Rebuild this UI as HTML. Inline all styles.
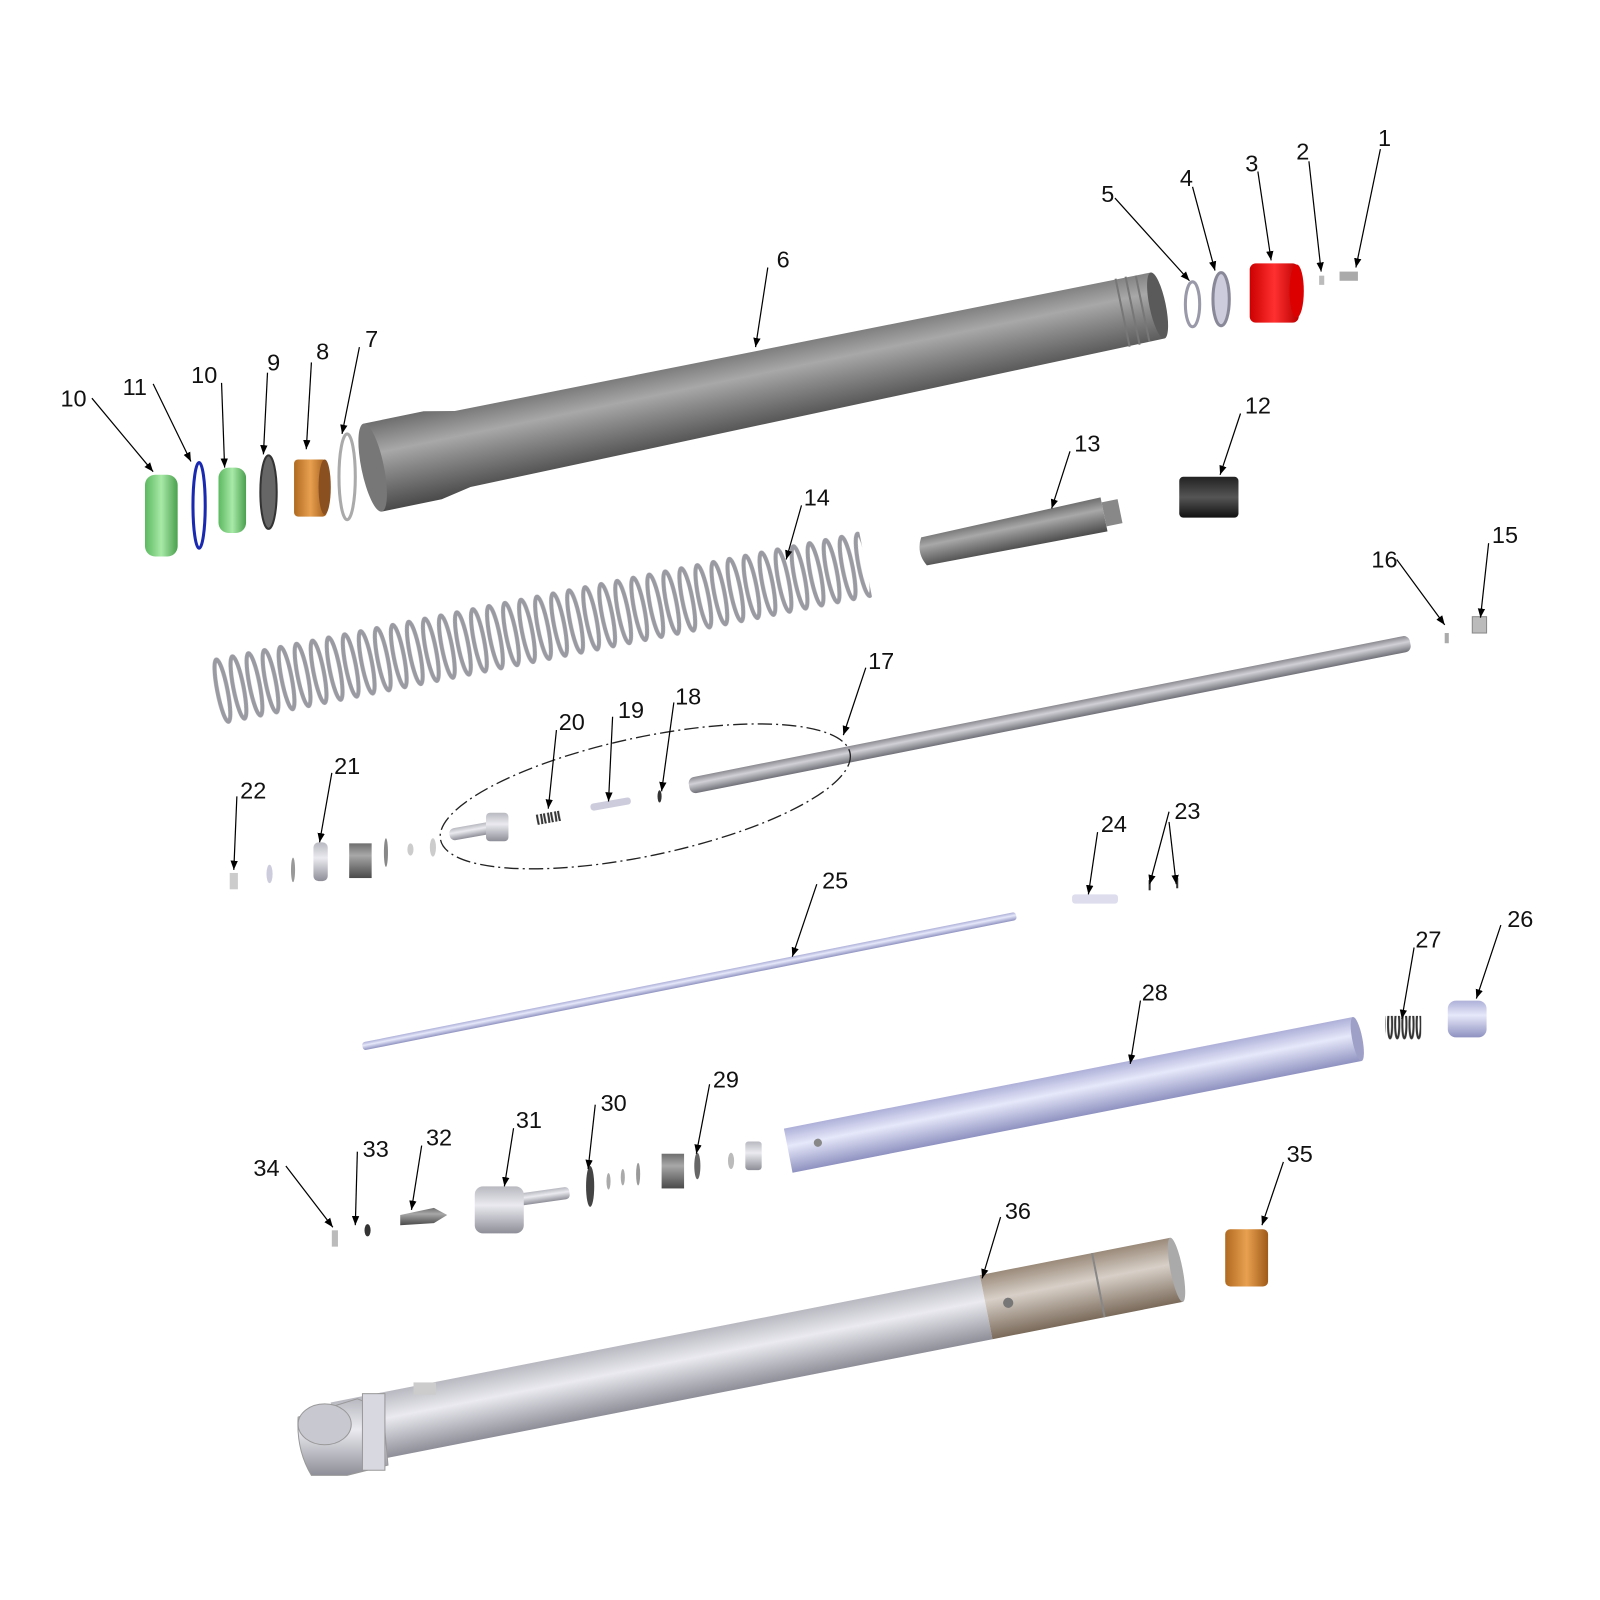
<!DOCTYPE html>
<html><head><meta charset="utf-8"><style>
html,body{margin:0;padding:0;background:#fff}
svg{display:block}
text{font-family:"Liberation Sans",sans-serif;font-size:23px;fill:#111}
</style></head><body>
<svg width="1600" height="1600" viewBox="0 0 1600 1600" xmlns="http://www.w3.org/2000/svg">
<defs>
<marker id="ar" viewBox="0 0 10 10" refX="10" refY="5" markerWidth="9" markerHeight="14" orient="auto-start-reverse" markerUnits="userSpaceOnUse"><path d="M0,1 L10,5 L0,9 z" fill="#000"/></marker>
<linearGradient id="gDark" x1="0" y1="0" x2="0" y2="1"><stop offset="0" stop-color="#6e6e6e"/><stop offset=".35" stop-color="#a8a8a8"/><stop offset=".55" stop-color="#8a8a8a"/><stop offset="1" stop-color="#4a4a4a"/></linearGradient>
<linearGradient id="gLight" x1="0" y1="0" x2="0" y2="1"><stop offset="0" stop-color="#b8b8c0"/><stop offset=".4" stop-color="#eaeaf0"/><stop offset="1" stop-color="#8e8e98"/></linearGradient>
<linearGradient id="gBlue" x1="0" y1="0" x2="0" y2="1"><stop offset="0" stop-color="#aeb0d8"/><stop offset=".4" stop-color="#e6e8fa"/><stop offset="1" stop-color="#8f92c0"/></linearGradient>
<linearGradient id="gBronze" x1="0" y1="0" x2="0" y2="1"><stop offset="0" stop-color="#9a8a7a"/><stop offset=".4" stop-color="#d8d0c8"/><stop offset="1" stop-color="#7a6a5a"/></linearGradient>
<linearGradient id="gRod" x1="0" y1="0" x2="0" y2="1"><stop offset="0" stop-color="#8a8a90"/><stop offset=".4" stop-color="#d0d0d6"/><stop offset="1" stop-color="#707078"/></linearGradient>
<linearGradient id="gOr" x1="0" y1="0" x2="1" y2="0"><stop offset="0" stop-color="#b06a20"/><stop offset=".5" stop-color="#e8a050"/><stop offset="1" stop-color="#a05a18"/></linearGradient>
<linearGradient id="gRed" x1="0" y1="0" x2="1" y2="0"><stop offset="0" stop-color="#c00"/><stop offset=".5" stop-color="#ff3030"/><stop offset="1" stop-color="#b00"/></linearGradient>
<linearGradient id="gGreen" x1="0" y1="0" x2="1" y2="0"><stop offset="0" stop-color="#5cb860"/><stop offset=".5" stop-color="#a8eaa8"/><stop offset="1" stop-color="#4aa04e"/></linearGradient>
<linearGradient id="gBlk" x1="0" y1="0" x2="0" y2="1"><stop offset="0" stop-color="#222"/><stop offset=".5" stop-color="#555"/><stop offset="1" stop-color="#111"/></linearGradient>
<pattern id="coil" x="0" y="-35" width="16" height="70" patternUnits="userSpaceOnUse"><ellipse cx="8" cy="35" rx="5" ry="31" fill="none" stroke="#9a9aa2" stroke-width="4"/></pattern>
<pattern id="coil2" width="7" height="34" patternUnits="userSpaceOnUse"><ellipse cx="3.5" cy="17" rx="2" ry="14" fill="none" stroke="#333" stroke-width="2"/></pattern>
</defs>
<g transform="scale(1.021)">
<g transform="translate(365,458) rotate(-11.67)">
<path d="M0,-44 L60,-44 L90,-38 L785,-33 L785,33 L90,38 L60,44 L0,44z" fill="url(#gDark)"/>
<ellipse cx="0" cy="0" rx="11" ry="44" fill="#777"/>
<ellipse cx="785" cy="0" rx="8" ry="33" fill="#5a5a5a"/>
<line x1="750" y1="-34" x2="750" y2="34" stroke="#777" stroke-width="2"/>
<line x1="760" y1="-34" x2="760" y2="34" stroke="#777" stroke-width="2"/>
<line x1="770" y1="-33" x2="770" y2="33" stroke="#777" stroke-width="2"/>
</g>
<ellipse cx="1168" cy="298" rx="7" ry="22" fill="none" stroke="#99a" stroke-width="3"/>
<ellipse cx="1196" cy="293" rx="8" ry="26" fill="#ccd" stroke="#889" stroke-width="3"/>
<rect x="1224" y="258" width="48" height="58" rx="6" fill="url(#gRed)"/>
<ellipse cx="1270" cy="285" rx="7" ry="26" fill="#d00"/>
<rect x="1292" y="270" width="5" height="9" fill="#bbb"/>
<rect x="1312" y="266" width="18" height="9" fill="#aaa"/>
<ellipse cx="340" cy="467" rx="8" ry="42" fill="none" stroke="#aaa" stroke-width="3"/>
<rect x="288" y="450" width="32" height="56" rx="4" fill="url(#gOr)"/>
<ellipse cx="318" cy="477" rx="6" ry="27" fill="#8a5020"/>
<ellipse cx="263" cy="482" rx="8" ry="36" fill="#666" stroke="#333" stroke-width="2"/>
<rect x="214" y="458" width="27" height="64" rx="10" fill="url(#gGreen)"/>
<ellipse cx="195" cy="495" rx="6" ry="42" fill="none" stroke="#1a2ab0" stroke-width="3"/>
<rect x="142" y="465" width="32" height="80" rx="10" fill="url(#gGreen)"/>
<rect x="1155" y="467" width="58" height="40" rx="4" fill="url(#gBlk)"/>
<g transform="translate(905,540) rotate(-11.6)">
<path d="M0,-14 L180,-17 L180,17 L0,14 Q-8,0 0,-14z" fill="url(#gDark)"/>
<rect x="180" y="-12" width="16" height="24" fill="#888"/>
</g>
<g transform="translate(210,678) rotate(-11.1)">
<rect x="0" y="-35" width="650" height="70" fill="url(#coil)"/>
</g>
<g transform="translate(675,770) rotate(-11.23)">
<rect x="0" y="-8" width="720" height="16" rx="6" fill="url(#gRod)"/>
</g>
<rect x="1442" y="604" width="14" height="16" fill="#bbb" stroke="#888"/>
<rect x="1415" y="620" width="4" height="10" fill="#aaa"/>
<ellipse cx="632" cy="780" rx="205" ry="58" transform="rotate(-12 632 780)" fill="none" stroke="#222" stroke-width="1.3" stroke-dasharray="14 4 2 4"/>
<rect x="525" y="796" width="24" height="10" fill="url(#coil2)" transform="rotate(-10 537 801)"/>
<rect x="578" y="784" width="40" height="7" rx="3" fill="#ccd" transform="rotate(-10 598 787)"/>
<ellipse cx="646" cy="780" rx="2" ry="6" fill="#333"/>
<rect x="440" y="808" width="45" height="12" rx="5" fill="url(#gLight)" transform="rotate(-10 462 814)"/>
<rect x="476" y="796" width="22" height="28" rx="4" fill="url(#gLight)"/>
<rect x="225" y="855" width="8" height="16" fill="#ccc"/>
<ellipse cx="264" cy="856" rx="3" ry="9" fill="#ccd"/>
<ellipse cx="287" cy="852" rx="2" ry="12" fill="#999"/>
<rect x="307" y="825" width="14" height="38" rx="5" fill="url(#gLight)"/>
<rect x="342" y="826" width="22" height="34" fill="url(#gDark)"/>
<ellipse cx="378" cy="835" rx="2" ry="14" fill="#888"/>
<ellipse cx="402" cy="832" rx="3" ry="6" fill="#ccc"/>
<ellipse cx="424" cy="830" rx="3" ry="9" fill="#ccc"/>
<rect x="1050" y="876" width="45" height="9" rx="3" fill="#dde"/>
<line x1="1126" y1="862" x2="1126" y2="872" stroke="#333" stroke-width="2"/>
<line x1="1153" y1="860" x2="1153" y2="870" stroke="#333" stroke-width="2"/>
<g transform="translate(355,1025) rotate(-11.3)">
<rect x="0" y="-4" width="653" height="8" rx="3" fill="url(#gBlue)"/>
</g>
<g transform="translate(772,1127) rotate(-11.1)">
<rect x="0" y="-22" width="568" height="44" fill="url(#gBlue)"/>
<ellipse cx="568" cy="0" rx="5" ry="22" fill="#9ea0c8"/>
<circle cx="30" cy="-2" r="4" fill="#888"/>
</g>
<rect x="1357" y="995" width="35" height="26" fill="url(#coil2)"/>
<rect x="1418" y="980" width="38" height="36" rx="8" fill="url(#gBlue)"/>
<rect x="730" y="1118" width="16" height="28" rx="3" fill="url(#gLight)"/>
<ellipse cx="716" cy="1137" rx="3" ry="8" fill="#bbb"/>
<ellipse cx="683" cy="1142" rx="3" ry="13" fill="#666"/>
<rect x="648" y="1130" width="22" height="34" fill="url(#gDark)"/>
<ellipse cx="625" cy="1150" rx="2" ry="11" fill="#999"/>
<ellipse cx="610" cy="1153" rx="2" ry="8" fill="#aaa"/>
<ellipse cx="596" cy="1157" rx="2" ry="8" fill="#aaa"/>
<ellipse cx="578" cy="1162" rx="4" ry="20" fill="#444"/>
<rect x="500" y="1166" width="58" height="12" rx="4" fill="url(#gLight)" transform="rotate(-8 530 1172)"/>
<rect x="465" y="1162" width="48" height="46" rx="8" fill="url(#gLight)"/>
<path d="M392,1190 L425,1183 L438,1190 L425,1198 L392,1200z" fill="url(#gDark)"/>
<ellipse cx="360" cy="1205" rx="3" ry="6" fill="#333"/>
<rect x="325" y="1205" width="6" height="16" fill="#bbb"/>
<rect x="1200" y="1204" width="42" height="56" rx="5" fill="url(#gOr)"/>
<g transform="translate(330,1405) rotate(-11.1)">
<rect x="0" y="-32" width="648" height="64" fill="url(#gLight)"/>
<rect x="648" y="-32" width="190" height="64" fill="url(#gBronze)"/>
<line x1="760" y1="-32" x2="760" y2="32" stroke="#888" stroke-width="2"/>
<ellipse cx="838" cy="0" rx="6" ry="32" fill="#aaa"/>
<circle cx="670" cy="0" r="5" fill="#777"/>
</g>
<path d="M292,1388 L350,1370 L375,1380 L380,1435 L340,1445 L305,1445 Q290,1420 292,1388z" fill="url(#gLight)" stroke="#999"/>
<ellipse cx="318" cy="1395" rx="26" ry="20" fill="#c8c8d0" stroke="#999"/>
<rect x="355" y="1365" width="22" height="75" fill="#d8d8e0" stroke="#999"/>
<rect x="405" y="1354" width="22" height="12" fill="#ccc"/>

<g stroke="#000" stroke-width="1.2" fill="none" marker-end="url(#ar)">
<line x1="1352" y1="146" x2="1328" y2="262"/>
<line x1="1282" y1="158" x2="1294" y2="266"/>
<line x1="1232" y1="168" x2="1245" y2="255"/>
<line x1="1168" y1="183" x2="1190" y2="265"/>
<line x1="1092" y1="194" x2="1165" y2="275"/>
<line x1="752" y1="262" x2="740" y2="340"/>
<line x1="352" y1="340" x2="335" y2="425"/>
<line x1="305" y1="355" x2="300" y2="440"/>
<line x1="262" y1="365" x2="258" y2="445"/>
<line x1="217" y1="375" x2="220" y2="458"/>
<line x1="90" y1="390" x2="150" y2="462"/>
<line x1="150" y1="376" x2="187" y2="452"/>
<line x1="1215" y1="405" x2="1195" y2="465"/>
<line x1="1048" y1="442" x2="1030" y2="498"/>
<line x1="785" y1="495" x2="770" y2="548"/>
<line x1="1458" y1="532" x2="1450" y2="605"/>
<line x1="1368" y1="548" x2="1415" y2="612"/>
<line x1="848" y1="654" x2="826" y2="720"/>
<line x1="660" y1="688" x2="648" y2="775"/>
<line x1="600" y1="702" x2="596" y2="785"/>
<line x1="545" y1="715" x2="537" y2="792"/>
<line x1="325" y1="757" x2="313" y2="825"/>
<line x1="232" y1="780" x2="229" y2="852"/>
<line x1="1145" y1="795" x2="1126" y2="866"/>
<line x1="1145" y1="805" x2="1152" y2="866"/>
<line x1="1075" y1="815" x2="1066" y2="876"/>
<line x1="800" y1="866" x2="776" y2="937"/>
<line x1="1470" y1="906" x2="1446" y2="978"/>
<line x1="1385" y1="928" x2="1373" y2="998"/>
<line x1="1117" y1="980" x2="1107" y2="1042"/>
<line x1="695" y1="1062" x2="682" y2="1130"/>
<line x1="583" y1="1082" x2="576" y2="1145"/>
<line x1="503" y1="1105" x2="494" y2="1162"/>
<line x1="413" y1="1122" x2="403" y2="1185"/>
<line x1="350" y1="1128" x2="348" y2="1200"/>
<line x1="280" y1="1142" x2="326" y2="1202"/>
<line x1="1257" y1="1138" x2="1236" y2="1200"/>
<line x1="980" y1="1192" x2="962" y2="1252"/>
</g>
<g text-anchor="middle">
<text x="1356" y="143">1</text><text x="1276" y="156">2</text><text x="1226" y="168">3</text>
<text x="1162" y="182">4</text><text x="1085" y="198">5</text><text x="767" y="262">6</text>
<text x="364" y="340">7</text><text x="316" y="352">8</text><text x="268" y="363">9</text>
<text x="200" y="375">10</text><text x="72" y="398">10</text><text x="132" y="387">11</text>
<text x="1232" y="405">12</text><text x="1065" y="442">13</text><text x="800" y="495">14</text>
<text x="1474" y="532">15</text><text x="1356" y="556">16</text><text x="863" y="655">17</text>
<text x="674" y="690">18</text><text x="618" y="703">19</text><text x="560" y="715">20</text>
<text x="340" y="758">21</text><text x="248" y="782">22</text><text x="1163" y="802">23</text>
<text x="1091" y="815">24</text><text x="818" y="870">25</text><text x="1489" y="908">26</text>
<text x="1399" y="928">27</text><text x="1131" y="980">28</text><text x="711" y="1065">29</text>
<text x="601" y="1088">30</text><text x="518" y="1105">31</text><text x="430" y="1122">32</text>
<text x="368" y="1133">33</text><text x="261" y="1152">34</text><text x="1273" y="1138">35</text>
<text x="997" y="1194">36</text>
</g>
</g>
</svg>
</body></html>
